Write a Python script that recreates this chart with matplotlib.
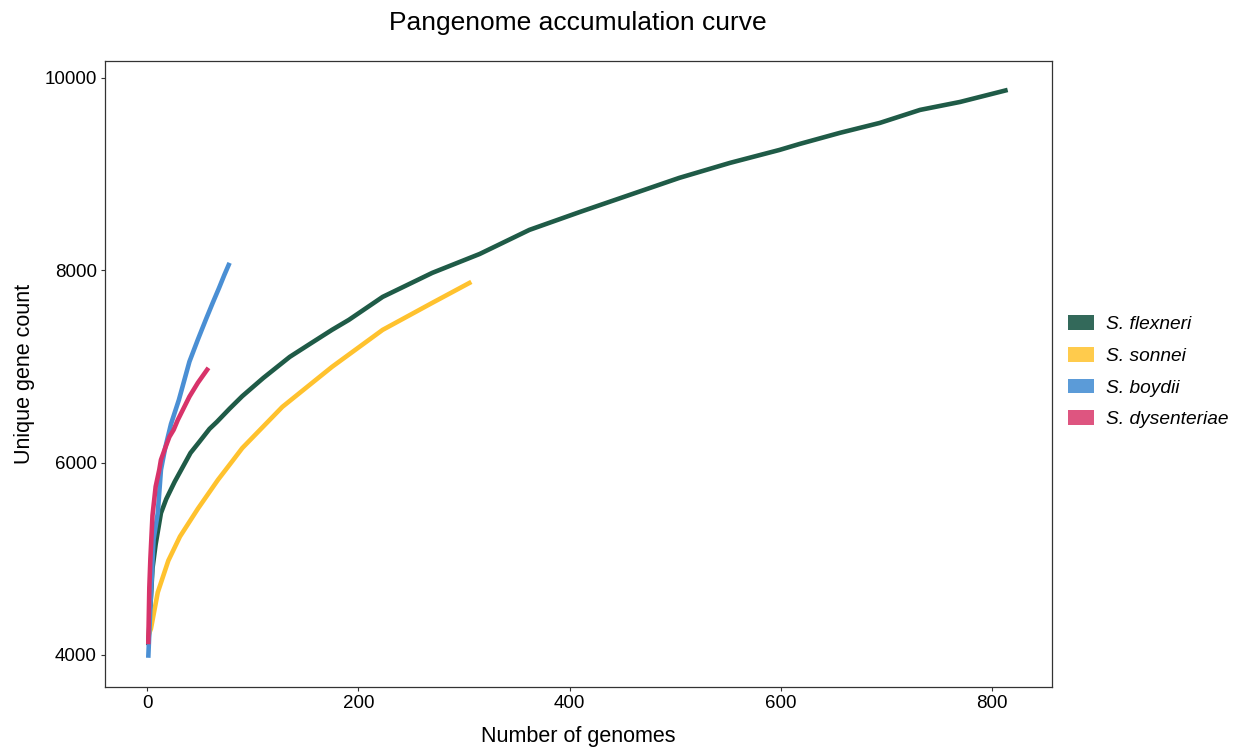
import matplotlib
matplotlib.use("Agg")
import matplotlib.pyplot as plt
from matplotlib.patches import Patch

plt.rcParams["font.family"] = ["Liberation Sans", "DejaVu Sans"]

# accumulation curves: number of genomes sampled -> unique gene count
flex_n = [1, 3, 5, 8, 13, 18, 26, 34, 41, 49, 59, 66, 78, 90, 110, 135, 155, 175, 191,
          223, 270, 315, 362, 410, 457, 504, 552, 599, 618, 656, 694, 732, 770, 815]
flex_g = [4100, 4500, 4900, 5150, 5474, 5620, 5800, 5960, 6100, 6210, 6350, 6423, 6560,
          6690, 6880, 7099, 7240, 7380, 7484, 7723, 7973, 8170, 8420, 8607, 8784, 8961,
          9117, 9252, 9314, 9429, 9533, 9668, 9751, 9876]

sonn_n = [1, 3.5, 10, 20, 31, 48, 67, 81, 90, 128, 175, 223, 270, 307]
sonn_g = [4200, 4270, 4650, 4980, 5230, 5520, 5820, 6020, 6150, 6579, 6995, 7380, 7661, 7879]

boyd_n = [1, 3, 6, 10, 13, 17, 22.5, 30, 40, 48, 56, 62, 68, 73, 78]
boyd_g = [3969, 4500, 5200, 5474, 5924, 6150, 6400, 6652, 7050, 7280, 7500, 7660, 7815,
          7950, 8077]

dys_n = [1, 2, 3, 5, 8, 11.4, 13, 17, 21, 25, 29, 40, 48, 58]
dys_g = [4110, 4700, 5000, 5450, 5750, 5924, 6028, 6150, 6267, 6340, 6444, 6686, 6830, 6985]

species = ["S. flexneri", "S. sonnei", "S. boydii", "S. dysenteriae"]
line_cols = ["#1f5b47", "#ffc22e", "#4a8fd4", "#d8336a"]
key_cols = ["#33695a", "#ffcb4c", "#5b9bd8", "#de5580"]
series = [(flex_n, flex_g), (sonn_n, sonn_g), (boyd_n, boyd_g), (dys_n, dys_g)]

fig = plt.figure(figsize=(12.41, 7.51), dpi=100)
ax = fig.add_axes([0.0846, 0.0852, 0.7631, 0.8336])

for (n, g), c in zip(series, line_cols):
    ax.plot(n, g, color=c, lw=3.3, solid_capstyle="butt", solid_joinstyle="round")

ax.set_xlim(-40, 857)
ax.set_ylim(3665, 10177)
ax.set_xticks([0, 200, 400, 600, 800])
ax.set_yticks([4000, 6000, 8000, 10000])
ax.tick_params(labelsize=13.5, length=3, width=0.8, color="#333333", labelcolor="black", pad=3)
for s in ax.spines.values():
    s.set_color("#333333")
    s.set_linewidth(0.9)

ax.set_xlabel("Number of genomes", fontsize=15.5, labelpad=10)
ax.set_ylabel("Unique gene count", fontsize=15.5, labelpad=7)
fig.suptitle("Pangenome accumulation curve", fontsize=19, x=0.466, y=0.985)

handles = [Patch(facecolor=c, edgecolor="none") for c in key_cols]
fig.legend(handles, species, loc="center left", bbox_to_anchor=(0.847, 0.505),
           frameon=False, prop={"size": 13.8, "style": "italic"},
           handlelength=1.35, handleheight=0.8, labelspacing=0.72, handletextpad=0.6)

fig.savefig("out.png", dpi=100)
